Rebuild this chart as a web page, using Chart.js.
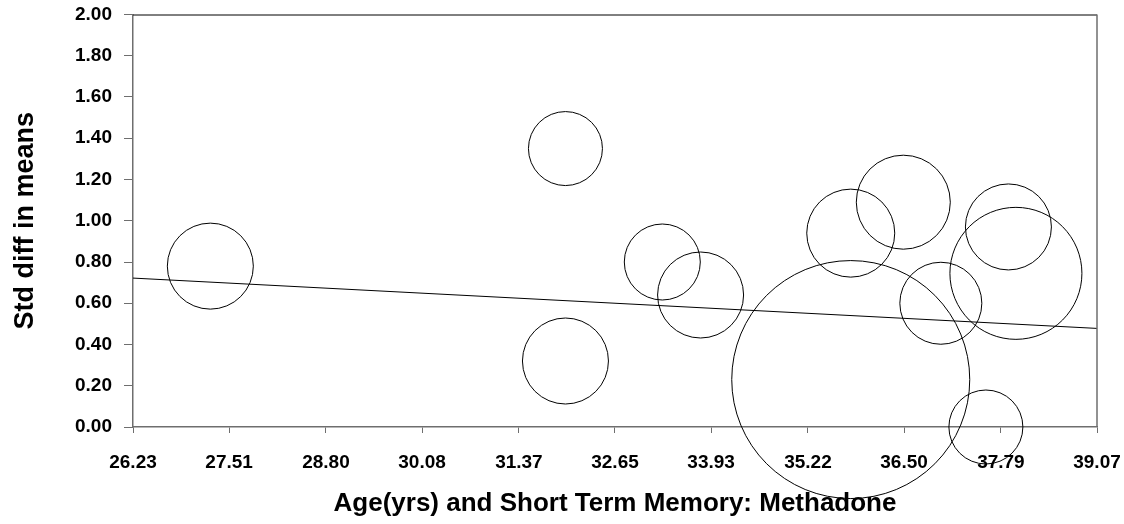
<!DOCTYPE html>
<html>
<head>
<meta charset="utf-8">
<script src="https://cdn.jsdelivr.net/npm/chart.js@4"></script>
<style>
  html, body { margin: 0; padding: 0; background: #fff; }
  #wrap { width: 1124px; height: 524px; }
</style>
</head>
<body>
<div id="wrap"><canvas id="grafico"></canvas></div>
<script>
// studies: covariate (age) vs effect size, radius = study weight
const ages = [27.26, 31.99, 31.99, 33.28, 33.79, 35.79, 35.79, 36.49, 36.99, 37.89, 37.99, 37.59];
const effects = [0.78, 1.35, 0.32, 0.80, 0.64, 0.94, 0.23, 1.09, 0.60, 0.97, 0.745, 0.0];
const weights = [43, 37, 43, 38, 43, 44, 119, 47, 41, 43, 66, 37];

// regression line end points
const lineX = [26.23, 39.07];
const lineY = [0.722, 0.478];

const xTicks = [26.23, 27.51, 28.80, 30.08, 31.37, 32.65, 33.93, 35.22, 36.50, 37.79, 39.07];
const yTicks = [0, 0.2, 0.4, 0.6, 0.8, 1.0, 1.2, 1.4, 1.6, 1.8, 2.0];

const axisGray = "#6e6e6e";
const fontFam = "'Liberation Sans', Arial, sans-serif";

// top and right edges of the plot box
const frame = {
  id: "frame",
  afterDraw(chart) {
    const { ctx, chartArea: a } = chart;
    ctx.save();
    ctx.lineWidth = 1;
    ctx.strokeStyle = "#000";
    ctx.beginPath();
    ctx.moveTo(a.left, a.top + 0.5);
    ctx.lineTo(a.right, a.top + 0.5);
    ctx.stroke();
    ctx.strokeStyle = axisGray;
    ctx.lineWidth = 1.5;
    ctx.beginPath();
    ctx.moveTo(a.right, a.top);
    ctx.lineTo(a.right, a.bottom);
    ctx.stroke();
    ctx.restore();
  },
};

new Chart(document.getElementById("grafico"), {
  data: {
    datasets: [
      {
        type: "bubble",
        data: ages.map((x, i) => ({ x, y: effects[i], r: weights[i] })),
        backgroundColor: "rgba(0,0,0,0)",
        borderColor: "#000",
        borderWidth: 1,
        clip: false,
      },
      {
        type: "line",
        data: lineX.map((x, i) => ({ x, y: lineY[i] })),
        borderColor: "#000",
        borderWidth: 1,
        pointRadius: 0,
        fill: false,
      },
    ],
  },
  plugins: [frame],
  options: {
    responsive: true,
    maintainAspectRatio: false,
    animation: false,
    events: [],
    layout: { autoPadding: false, padding: { top: 14.5, right: 27, left: 0, bottom: 0 } },
    plugins: { legend: { display: false }, tooltip: { enabled: false } },
    scales: {
      x: {
        type: "linear",
        min: 26.23,
        max: 39.07,
        afterBuildTicks: (s) => { s.ticks = xTicks.map((v) => ({ value: v })); },
        afterFit: (s) => {
          s.height = 97;
          s.paddingLeft = 0;
          s.paddingRight = 0;
        },
        border: { color: axisGray, width: 1.5 },
        grid: { drawOnChartArea: false, tickLength: 6, color: axisGray },
        ticks: {
          padding: 18,
          color: "#000",
          font: { family: fontFam, size: 19, weight: "bold" },
          maxRotation: 0,
          autoSkip: false,
          callback: (v) => Number(v).toFixed(2),
        },
        title: {
          display: true,
          text: "Age(yrs) and Short Term Memory: Methadone",
          color: "#000",
          font: { family: fontFam, size: 26, weight: "bold" },
          padding: { top: 0, bottom: 5 },
        },
      },
      y: {
        type: "linear",
        min: 0,
        max: 2,
        afterBuildTicks: (s) => { s.ticks = yTicks.map((v) => ({ value: v })); },
        afterFit: (s) => {
          s.width = 133;
          s.paddingTop = 0;
          s.paddingBottom = 0;
        },
        border: { color: axisGray, width: 1.5 },
        grid: { drawOnChartArea: false, tickLength: 9, color: axisGray },
        ticks: {
          padding: 12,
          color: "#000",
          font: { family: fontFam, size: 19, weight: "bold" },
          callback: (v) => Number(v).toFixed(2),
        },
        title: {
          display: true,
          text: "Std diff in means",
          color: "#000",
          font: { family: fontFam, size: 27, weight: "bold" },
          padding: { top: 9, bottom: 0 },
        },
      },
    },
  },
});
</script>
</body>
</html>
